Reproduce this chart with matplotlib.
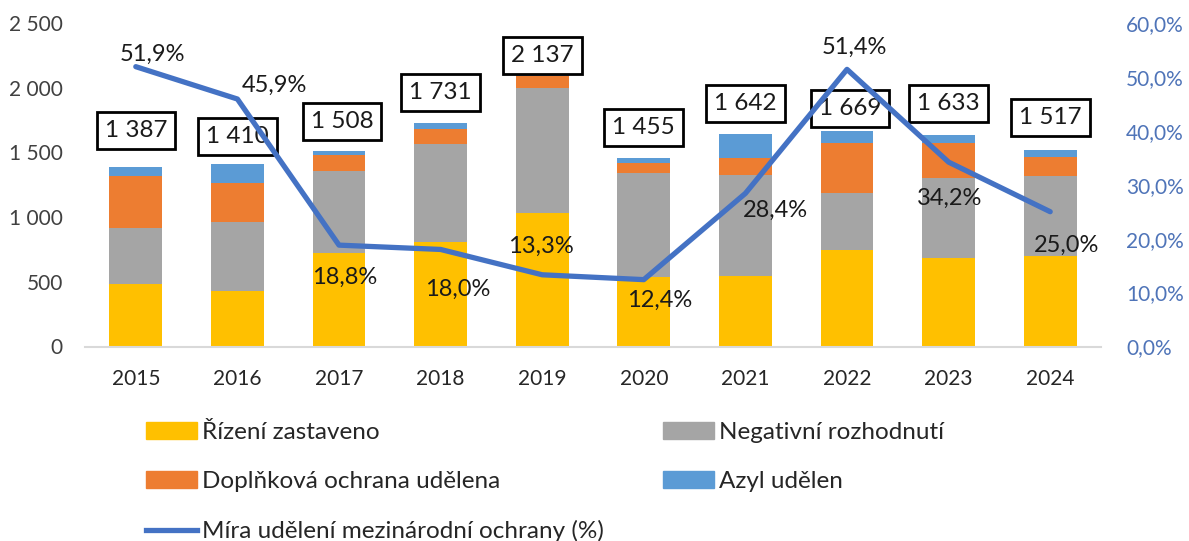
import matplotlib
matplotlib.use("Agg")
import matplotlib.pyplot as plt
import numpy as np
from matplotlib.ticker import FuncFormatter
from matplotlib.patches import Patch
from matplotlib.lines import Line2D

plt.rcParams['font.family'] = ['Lato', 'DejaVu Sans']

years = ["2015", "2016", "2017", "2018", "2019", "2020", "2021", "2022", "2023", "2024"]
rizeni_zastaveno = [484, 432, 722, 810, 1032, 536, 541, 743, 681, 702]
negativni = [434, 528, 636, 754, 962, 801, 786, 444, 625, 614]
doplnkova = [398, 307, 124, 120, 93, 83, 129, 388, 269, 151]
azyl = [71, 143, 26, 47, 50, 35, 186, 94, 58, 50]
mira_pct = [51.9, 45.9, 18.8, 18.0, 13.3, 12.4, 28.4, 51.4, 34.2, 25.0]

series_names = ["Řízení zastaveno", "Negativní rozhodnutí", "Doplňková ochrana udělena", "Azyl udělen"]
line_name = "Míra udělení mezinárodní ochrany (%)"

colors = ["#FFC000", "#A5A5A5", "#ED7D31", "#5B9BD5"]
line_color = "#4472C4"

# label offsets in pixels (dx, dy up)
total_dy = [37, 28, 30, 30, 14, 31, 31, 22, 32, 33]
total_dx = [0, 0, 3, 0, 0, 0, 0, 3, 0, 0]
pct_off = [(17, 12), (37, 14), (6, -32), (17, -40), (-1, 28), (16, -21), (30, -17), (7, 22), (1, -36), (16, -34)]

fig = plt.figure(figsize=(11.89, 5.41), dpi=100)
ax = fig.add_axes([85/1189, 194.5/541, (1101-85)/1189, (518-194.5)/541])
ax2 = ax.twinx()

x = np.arange(len(years))
data = [rizeni_zastaveno, negativni, doplnkova, azyl]
bottom = np.zeros(len(years))
for vals, c, name in zip(data, colors, series_names):
    ax.bar(x, vals, width=0.52, bottom=bottom, color=c, label=name, zorder=2)
    bottom = bottom + np.array(vals)
totals = bottom

def fmt_thousands(v):
    s = f"{int(round(v)):,}".replace(",", " ")
    return s

for i, t in enumerate(totals):
    ax.annotate(fmt_thousands(t), xy=(x[i], t), xytext=(total_dx[i], total_dy[i]),
                textcoords='offset pixels', ha='center', va='center', fontsize=17.5,
                color='#1a1a1a', zorder=3,
                bbox=dict(boxstyle='square,pad=0.33', fc='white', ec='black', lw=2))

ax.set_xlim(-0.5, len(years) - 0.5)
ax.set_ylim(0, 2500)
ax.set_yticks(np.arange(0, 2501, 500))
ax.yaxis.set_major_formatter(FuncFormatter(lambda v, p: fmt_thousands(v)))
ax.set_xticks(x)
ax.set_xticklabels(years)
ax.tick_params(axis='y', length=0, pad=16, labelsize=15, labelcolor='#404040')
ax.tick_params(axis='x', length=0, pad=16, labelsize=15, labelcolor='#262626')
for s in ['top', 'right', 'left']:
    ax.spines[s].set_visible(False)
ax.spines['bottom'].set_color('#D9D9D9')
ax.spines['bottom'].set_linewidth(1.5)

pct = np.array(mira_pct) / 100.0
ax2.plot(x, pct, color=line_color, lw=3.8, zorder=3, solid_capstyle='round', solid_joinstyle='round')
ax2.set_ylim(0, 0.6)
ax2.set_yticks(np.arange(0, 0.61, 0.1))
ax2.yaxis.set_major_formatter(FuncFormatter(lambda v, p: f"{v*100:.1f}%".replace(".", ",")))
ax2.tick_params(axis='y', length=0, pad=18, labelsize=15, labelcolor='#4F74B8')
for s in ['top', 'right', 'left', 'bottom']:
    ax2.spines[s].set_visible(False)

for i, v in enumerate(pct):
    dx, dy = pct_off[i]
    ax2.annotate(f"{mira_pct[i]:.1f}%".replace(".", ","), xy=(x[i], v), xytext=(dx, dy),
                 textcoords='offset pixels', ha='center', va='center', fontsize=17,
                 color='#1a1a1a', zorder=5)

handles = [Patch(color=colors[0]), Patch(color=colors[2]), Line2D([], [], color=line_color, lw=3.8),
           Patch(color=colors[1]), Patch(color=colors[3])]
labels = [series_names[0], series_names[2], line_name, series_names[1], series_names[3]]
fig.legend(handles, labels, ncol=2, loc='upper left', bbox_to_anchor=(146/1189, 1 - 422/541),
           frameon=False, fontsize=17.5, handlelength=2.1, handletextpad=0.2,
           labelspacing=1.15, columnspacing=2.45, borderpad=0, borderaxespad=0,
           labelcolor='#262626')

fig.savefig("out.png", dpi=100)
